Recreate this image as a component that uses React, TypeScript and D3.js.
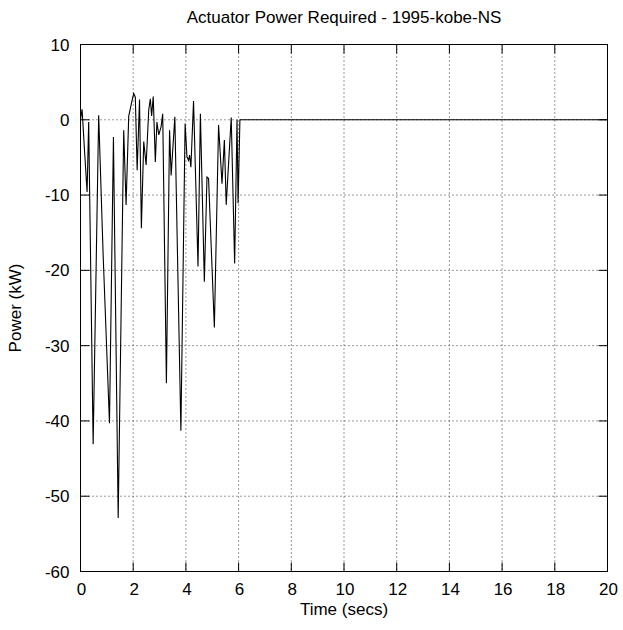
import React from "react";
import * as d3 from "d3";

const TITLE = "Actuator Power Required - 1995-kobe-NS";
const X_LABEL = "Time (secs)";
const Y_LABEL = "Power (kW)";
const xTicks = [0, 2, 4, 6, 8, 10, 12, 14, 16, 18, 20];
const yTicks = [10, 0, -10, -20, -30, -40, -50, -60];

const timeSecs = [
  0.0, 0.06, 0.16, 0.25, 0.31, 0.48, 0.69, 0.86, 1.1, 1.25, 1.43, 1.64, 1.73, 1.83,
  1.96, 2.02, 2.08, 2.15, 2.24, 2.31, 2.4, 2.49, 2.59, 2.65, 2.7, 2.76, 2.84, 2.9,
  2.97, 3.06, 3.12, 3.26, 3.38, 3.44, 3.58, 3.81, 3.97, 4.04, 4.1, 4.14, 4.19, 4.29,
  4.46, 4.55, 4.7, 4.8, 4.86, 5.08, 5.24, 5.37, 5.46, 5.53, 5.72, 5.85, 5.94, 5.98,
  6.05, 20.0,
];
const powerKW = [
  0.0, 1.4, -4.5, -9.6, -0.3, -43.1, 0.6, -18, -40.3, -2.3, -52.9, -1.4, -11.3, 0.5,
  2.6, 3.5, 3.0, -6.7, 2.7, -14.4, -2.9, -6.0, 1.3, 2.8, 0.5, 3.1, -5.6, -0.3,
  -2.0, -0.9, 0.8, -35.0, -1.4, -7.4, 0.4, -41.3, -0.5, -4.9, -5.4, -4.7, -6.3, 2.5,
  -19.5, 0.8, -21.5, -7.6, -7.8, -27.6, -0.7, -8.5, -2.7, -11.3, 0.3, -19.1, 0.0, -11.1,
  0.0, 0.0,
];

export default function App() {
  const W = 623;
  const H = 630;
  const x = d3.scaleLinear().domain([0, 20]).range([80.5, 607.5]);
  const y = d3.scaleLinear().domain([-60, 10]).range([571.5, 44.5]);
  const [x0, x1] = x.range();
  const [y0, y1] = y.range();
  const font = "'Liberation Sans', Arial, Helvetica, sans-serif";
  const tickLen = 9;

  const pts = timeSecs.map((t, i) => [t, powerKW[i]] as [number, number]);
  const line = d3
    .line<[number, number]>()
    .x((d) => x(d[0]))
    .y((d) => y(d[1]));

  return (
    <svg
      width={W}
      height={H}
      style={{ position: "absolute", left: 0, top: 0, background: "#fff" }}
      fontFamily={font}
    >
      <rect x={0} y={0} width={W} height={H} fill="#fff" />
      {/* grid */}
      {xTicks
        .filter((t) => t !== 0 && t !== 20)
        .map((t) => (
          <line
            key={"gx" + t}
            x1={x(t)}
            x2={x(t)}
            y1={y1}
            y2={y0}
            stroke="#333"
            strokeWidth={1}
            strokeDasharray="1,3"
          />
        ))}
      {yTicks
        .filter((t) => t !== 10 && t !== -60)
        .map((t) => (
          <line
            key={"gy" + t}
            x1={x0}
            x2={x1}
            y1={y(t)}
            y2={y(t)}
            stroke="#333"
            strokeWidth={1}
            strokeDasharray="1,3"
          />
        ))}
      {/* ticks */}
      {xTicks.map((t) => (
        <g key={"tx" + t}>
          <line x1={x(t)} x2={x(t)} y1={y0} y2={y0 - tickLen} stroke="#000" />
          <line x1={x(t)} x2={x(t)} y1={y1} y2={y1 + tickLen} stroke="#000" />
        </g>
      ))}
      {yTicks.map((t) => (
        <g key={"ty" + t}>
          <line x1={x0} x2={x0 + tickLen} y1={y(t)} y2={y(t)} stroke="#000" />
          <line x1={x1} x2={x1 - tickLen} y1={y(t)} y2={y(t)} stroke="#000" />
        </g>
      ))}
      {/* data */}
      <path d={line(pts) || ""} fill="none" stroke="#000" strokeWidth={1.1} strokeLinejoin="miter" />
      {/* frame */}
      <rect x={x0} y={y1} width={x1 - x0} height={y0 - y1} fill="none" stroke="#000" strokeWidth={1} />
      {/* tick labels */}
      {xTicks.map((t) => (
        <text key={"lx" + t} x={x(t) + 1} y={595} textAnchor="middle" fontSize={17} fill="#000">
          {t}
        </text>
      ))}
      {yTicks.map((t) => (
        <text key={"ly" + t} x={69.5} y={y(t) + 6} textAnchor="end" fontSize={17} fill="#000">
          {t}
        </text>
      ))}
      {/* titles */}
      <text x={(x0 + x1) / 2} y={23} textAnchor="middle" fontSize={17} fill="#000">
        {TITLE}
      </text>
      <text x={(x0 + x1) / 2} y={615} textAnchor="middle" fontSize={17} fill="#000">
        {X_LABEL}
      </text>
      <text
        transform={`translate(21, ${(y0 + y1) / 2}) rotate(-90)`}
        textAnchor="middle"
        fontSize={17}
        fill="#000"
      >
        {Y_LABEL}
      </text>
    </svg>
  );
}
